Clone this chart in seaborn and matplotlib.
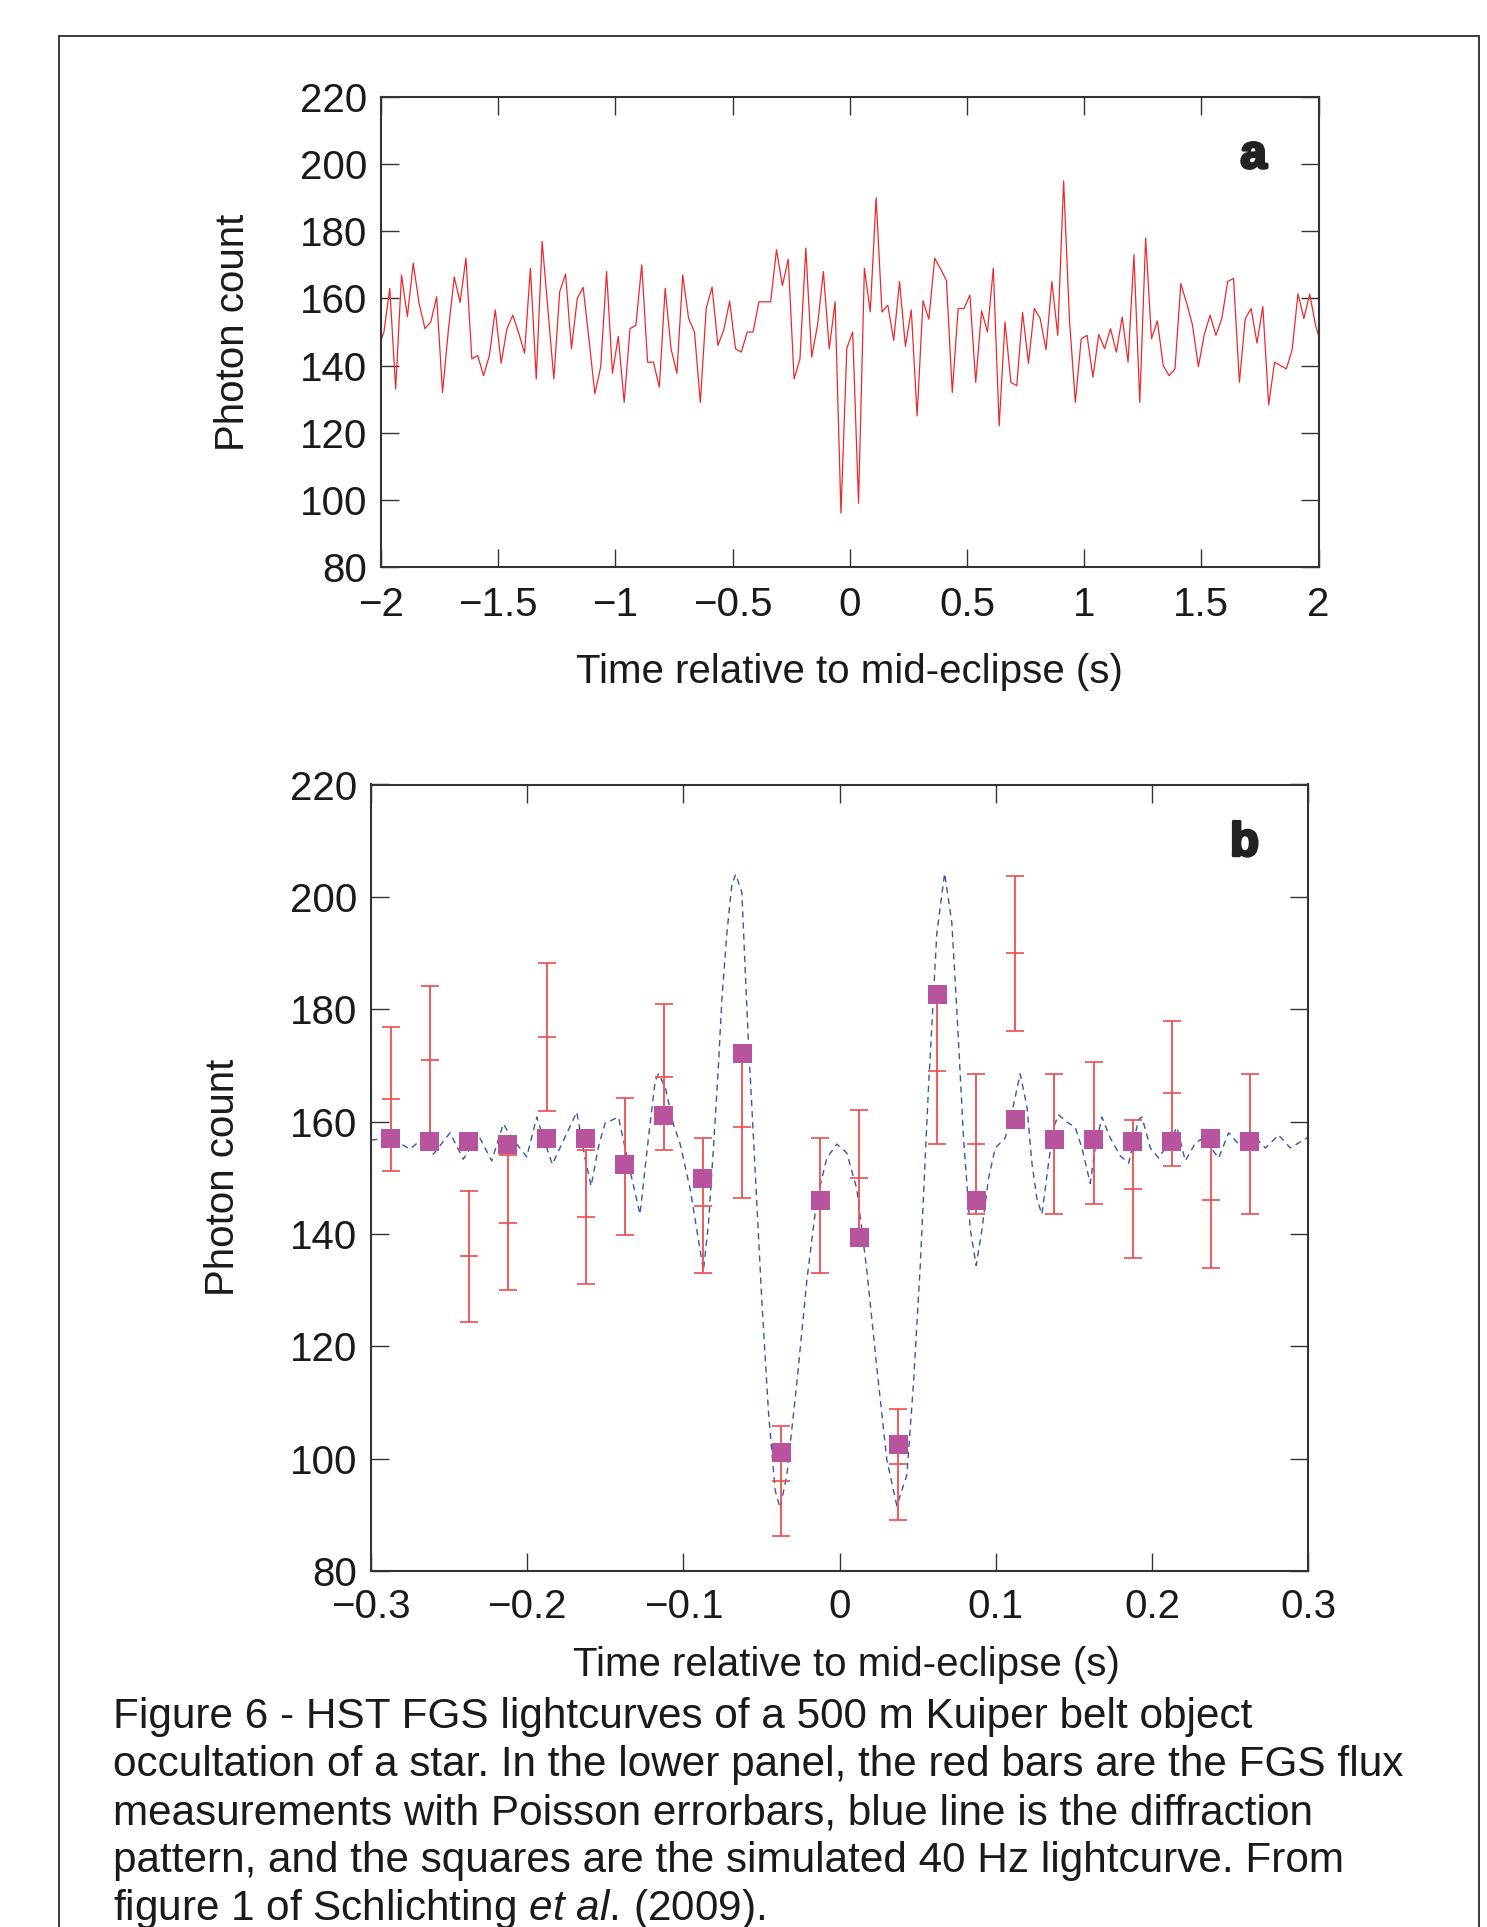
import numpy as np
import matplotlib
matplotlib.use("Agg")
import matplotlib.pyplot as plt
import matplotlib.patheffects as pe
from matplotlib.patches import Rectangle
import seaborn as sns

# style first, fonts after (set_style resets font.family)
sns.set_style("ticks")
plt.rcParams['font.family'] = ['Liberation Sans', 'DejaVu Sans']
plt.rcParams['mathtext.fontset'] = 'custom'
plt.rcParams['mathtext.rm'] = 'Liberation Sans'
plt.rcParams['mathtext.it'] = 'Liberation Sans:italic'

# ---------- data: panel a (40 Hz FGS photon counts) ----------
sample_dt = 0.025
first_time = -2.0125

photon_counts = [
    145,
    150, 163, 133, 167, 154.6, 170.5, 158.6, 151, 153, 160.5,
    132, 150.6, 166.4, 158.8, 172, 142, 143, 137, 143, 156.6,
    140.7, 151, 155, 149.7, 143.7, 169, 136, 177, 156.6, 136,
    162, 167.3, 145, 160, 163.3, 147.7, 131.6, 139.7, 168, 137.7,
    148.7, 129, 151, 152, 170, 141, 141, 133.6, 163, 145,
    137.7, 167, 154, 150, 129, 157, 163.4, 146, 150.6, 159.2,
    145, 144, 150, 150, 159, 159, 159, 174.5, 163.8, 171.7,
    136, 142, 175, 142.5, 152, 168, 145, 159, 96, 145.2,
    150, 99, 169, 156, 190, 156, 158, 147.5, 165, 145.7,
    156.6, 125, 159.3, 153.8, 172, 168.8, 165.3, 132, 157, 157,
    161, 135, 156.3, 150, 169, 122, 153, 135, 134, 155.8,
    140.7, 157, 154, 144.7, 165, 149, 195, 153.6, 129, 148,
    149, 136.5, 149.3, 145, 151, 144, 154.5, 141, 173, 129,
    178, 148, 153.3, 140, 137, 139, 164.4, 158.6, 152, 139.7,
    149.2, 155, 149, 154, 165, 166, 135, 154, 157, 146.7,
    157.6, 128.3, 141, 140, 139, 144.7, 161.4, 154, 161.3, 152,
    146,
]
times_a = first_time + sample_dt * np.arange(len(photon_counts))

# ---------- data: panel b ----------
bin_times = -0.2875 + 0.025 * np.arange(23)

measured = [164, 171, 136, 142, 175, 143, 152, 168, 145, 159, 96, 145,
            150, 99, 169, 156, 190, 156, 158, 148, 165, 146, 156]
poisson_err = [12.8, 13.1, 11.6, 12.0, 13.2, 12.0, 12.2, 13.0, 12.0, 12.6, 9.8, 12.0,
               12.1, 9.9, 13.0, 12.5, 13.8, 12.5, 12.6, 12.2, 12.9, 12.1, 12.5]
simulated = [157.0, 156.4, 156.4, 156.0, 157.0, 157.0, 152.4, 161.1, 149.9, 172.2, 101.1, 145.9,
             139.3, 102.5, 182.6, 145.9, 160.3, 156.8, 156.8, 156.4, 156.4, 157.0, 156.4]

# diffraction pattern
model_t = [-0.300, -0.2878, -0.2750, -0.2665, -0.2601, -0.2494, -0.2409, -0.2313, -0.2227,
           -0.2153, -0.2099, -0.2003, -0.1939, -0.1886, -0.1839, -0.1779, -0.1683, -0.1630,
           -0.1591, -0.1544, -0.1502, -0.1416, -0.1352, -0.1278, -0.1224, -0.1181, -0.1160,
           -0.1117, -0.1064, -0.1021, -0.0957, -0.0872, -0.0840, -0.0808, -0.0776, -0.0754,
           -0.0722, -0.0690, -0.0665, -0.0626, -0.0605, -0.0583, -0.0562, -0.0530, -0.0498,
           -0.0455, -0.0413, -0.0381, -0.0338, -0.0274, -0.0210, -0.0146, -0.0082, -0.0018,
           0.0046, 0.0110, 0.0174, 0.0238, 0.0302, 0.0366, 0.0430, 0.0473, 0.0516, 0.0569,
           0.0622, 0.0672, 0.0718, 0.0750, 0.0793, 0.0836, 0.0874, 0.0911, 0.0953, 0.0996,
           0.1060, 0.1103, 0.1156, 0.1199, 0.1231, 0.1263, 0.1295, 0.1337, 0.1370, 0.1401,
           0.1455, 0.1508, 0.1551, 0.1604, 0.1636, 0.1679, 0.1732, 0.1796, 0.1850, 0.1914,
           0.1935, 0.1989, 0.2042, 0.2106, 0.2159, 0.2213, 0.2277, 0.2330, 0.2426, 0.2490,
           0.2575, 0.2650, 0.2725, 0.2810, 0.2885, 0.2992, 0.3000]
model_counts = [156.7, 157.1, 155.1, 157.1, 154.2, 158.0, 153.3, 157.6, 153.0,
                159.6, 157.1, 153.7, 160.8, 156.2, 152.4, 156.0, 161.7, 153.5,
                148.5, 155.5, 159.7, 160.8, 152.5, 143.5, 157.1, 167.2, 168.5,
                166.2, 159.5, 156.0, 148.0, 133.5, 141.7, 155.3, 169.9, 181.7,
                193.5, 202.2, 204.0, 200.8, 187.2, 173.5, 162.6, 145.3, 128.0,
                108.0, 94.4, 91.2, 97.1, 113.5, 131.7, 146.2, 153.5, 156.0,
                154.4, 148.0, 133.5, 116.2, 99.8, 91.6, 97.1, 113.5, 134.4, 166.2,
                193.5, 204.2, 195.4, 179.9, 157.1, 140.8, 134.4, 140.8, 149.9, 155.3,
                157.1, 161.7, 168.5, 162.6, 152.6, 146.2, 143.5, 152.6, 159.0, 161.2,
                159.9, 159.0, 155.3, 149.0, 155.3, 160.8, 157.1, 153.9, 152.6, 160.4,
                160.8, 155.3, 153.5, 156.2, 159.0, 153.0, 156.2, 157.1, 153.5, 158.0,
                155.3, 157.5, 155.3, 157.6, 155.3, 157.1, 157.0]

# ---------- ticks and text ----------
y_ticks = [80, 100, 120, 140, 160, 180, 200, 220]
x_ticks_a = [-2, -1.5, -1, -0.5, 0, 0.5, 1, 1.5, 2]
x_labels_a = ['\u22122', '\u22121.5', '\u22121', '\u22120.5', '0', '0.5', '1', '1.5', '2']
x_ticks_b = [-0.3, -0.2, -0.1, 0, 0.1, 0.2, 0.3]
x_labels_b = ['\u22120.3', '\u22120.2', '\u22120.1', '0', '0.1', '0.2', '0.3']

caption_lines = [
    "Figure 6 - HST FGS lightcurves of a 500 m Kuiper belt object",
    "occultation of a star. In the lower panel, the red bars are the FGS flux",
    "measurements with Poisson errorbars, blue line is the diffraction",
    "pattern, and the squares are the simulated 40 Hz lightcurve. From",
    r"figure 1 of Schlichting $\it{et\ al.}\!$ (2009).",
]

red = '#ec2a2e'
bar_red = '#ef4d4d'
square_col = '#b8539d'
blue = '#3a56a8'
ink = '#1a1a1a'

W, H = 1487, 1927
fig = plt.figure(figsize=(W / 100, H / 100), dpi=100)

# axes placed in pixel terms of the reference
ax_a = fig.add_axes([381 / W, 1 - 567 / H, 937.5 / W, 470 / H])
ax_b = fig.add_axes([371 / W, 1 - 1571 / H, 937.3 / W, 786.5 / H])


def style_axis(ax, xpad):
    for s in ax.spines.values():
        s.set_linewidth(1.5)
        s.set_color('#333333')
    ax.tick_params(axis='both', which='major', direction='in', top=True, right=True,
                   length=13, width=1.0, color='#333333', labelsize=29, labelcolor=ink)
    ax.tick_params(axis='x', pad=xpad)
    ax.tick_params(axis='y', pad=10)


# ----- panel a -----
sns.lineplot(x=times_a, y=photon_counts, ax=ax_a, color=red, linewidth=0.9)
ax_a.set_xlim(-2, 2)
ax_a.set_ylim(80, 220)
ax_a.set_xticks(x_ticks_a, labels=x_labels_a)
ax_a.set_yticks(y_ticks)
style_axis(ax_a, 14)
ax_a.set_xlabel('Time relative to mid-eclipse (s)', fontsize=29, color=ink)
ax_a.set_ylabel('Photon count', fontsize=29, color=ink)
ax_a.xaxis.set_label_coords(0.5, -0.182)
ax_a.yaxis.set_label_coords(-0.138, 0.5)
ax_a.text(0.9447, 0.849, 'a', transform=ax_a.transAxes, ha='right', va='baseline',
          fontsize=34, fontweight='bold', color='#222222',
          path_effects=[pe.withStroke(linewidth=2.2, foreground='#222222')])

# ----- panel b -----
sns.lineplot(x=model_t, y=model_counts, ax=ax_b, color=blue, linewidth=1.0,
             linestyle=(0, (4.5, 3.5)), zorder=2)
ax_b.errorbar(bin_times, measured, yerr=poisson_err, fmt='none', ecolor=bar_red,
              elinewidth=1.3, capsize=6.5, capthick=1.2, zorder=3)
ax_b.plot(bin_times, measured, linestyle='none', marker='_', markersize=13,
          markeredgewidth=1.2, color=bar_red, zorder=3)
sns.scatterplot(x=bin_times, y=simulated, ax=ax_b, marker='s', s=13.7 ** 2,
                color=square_col, edgecolor='none', linewidth=0, zorder=5)
ax_b.set_xlim(-0.3, 0.3)
ax_b.set_ylim(80, 220)
ax_b.set_xticks(x_ticks_b, labels=x_labels_b)
ax_b.set_yticks(y_ticks)
style_axis(ax_b, 12)
ax_b.set_xlabel('Time relative to mid-eclipse (s)', fontsize=29, color=ink)
ax_b.set_ylabel('Photon count', fontsize=29, color=ink)
ax_b.xaxis.set_label_coords(0.507, -0.095)
ax_b.yaxis.set_label_coords(-0.1376, 0.5)
ax_b.text(0.9474, 0.9095, 'b', transform=ax_b.transAxes, ha='right', va='baseline',
          fontsize=34, fontweight='bold', color='#222222',
          path_effects=[pe.withStroke(linewidth=2.2, foreground='#222222')])

# frame around the figure (open at the bottom, runs off the page)
fig.add_artist(Rectangle((59 / W, -0.05), (1479 - 59) / W, 0.05 + 1 - 36 / H,
                         transform=fig.transFigure, fill=False, linewidth=1.2,
                         edgecolor=ink, clip_on=False))

# caption
for i, line in enumerate(caption_lines):
    fig.text(113 / W, 1 - (1728 + 48 * i) / H, line, fontsize=30.4, color=ink,
             ha='left', va='baseline')

fig.savefig('out.png', dpi=100)
